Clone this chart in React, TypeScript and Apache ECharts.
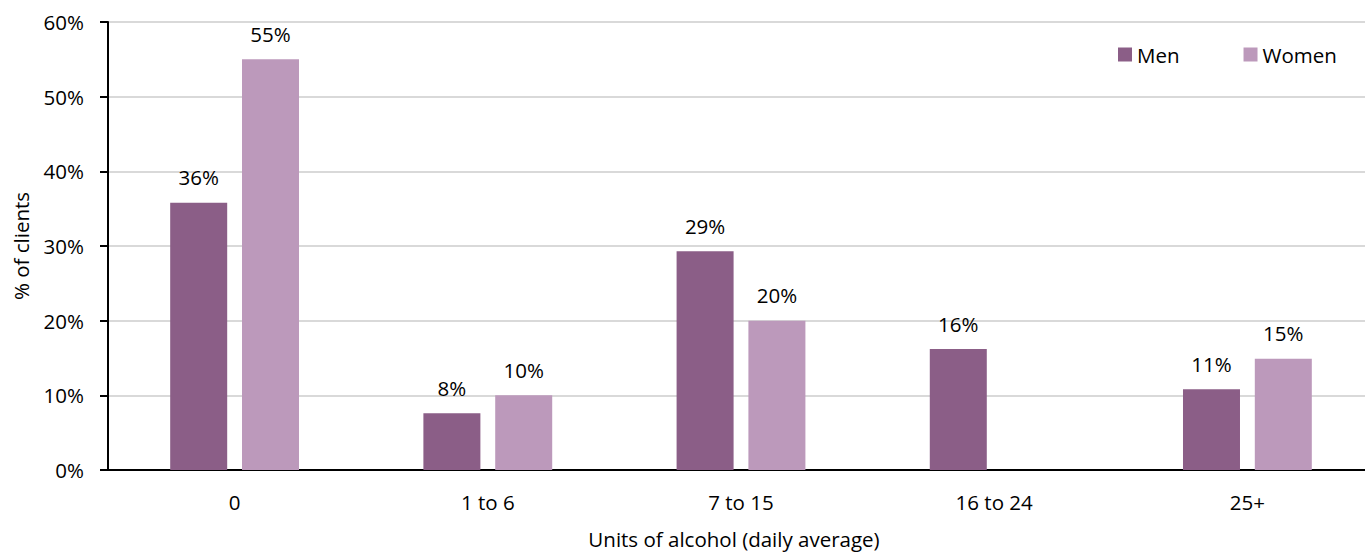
import React, { useEffect, useRef } from "react";
import * as echarts from "echarts";

const categories = ["0", "1 to 6", "7 to 15", "16 to 24", "25+"];
const menValues = [35.8, 7.6, 29.3, 16.2, 10.8];
const womenValues = [55, 10, 20, null, 14.9];
const menLabels = ["36%", "8%", "29%", "16%", "11%"];
const womenLabels = ["55%", "10%", "20%", "", "15%"];
const yTicks = [0, 10, 20, 30, 40, 50, 60];

const FONT = "Open Sans";
const FS = 20.5;

export default function App() {
  const ref = useRef<HTMLDivElement>(null);
  useEffect(() => {
    if (!ref.current) return;
    const chart = echarts.init(ref.current, undefined, { renderer: "svg" });
    chart.setOption({
      animation: false,
      textStyle: { fontFamily: FONT },
      legend: {
        left: 1118,
        top: 44,
        padding: 0,
        itemWidth: 14,
        itemHeight: 14,
        itemGap: 64,
        icon: "rect",
        textStyle: { fontFamily: FONT, fontSize: FS, color: "#000" },
        data: ["Men", "Women"],
      },
      grid: {
        left: 108,
        top: 22,
        width: 1266,
        height: 448,
        containLabel: false,
        outerBoundsMode: "none",
      },
      xAxis: {
        type: "category",
        data: categories,
        name: "Units of alcohol (daily average)",
        nameLocation: "middle",
        nameGap: 58,
        nameTextStyle: { fontFamily: FONT, fontSize: FS, color: "#000", padding: [0, 14, 0, 0] },
        axisLine: { lineStyle: { color: "#000", width: 2 } },
        axisTick: { show: false },
        axisLabel: { margin: 21, fontFamily: FONT, fontSize: FS, color: "#000" },
      },
      yAxis: {
        type: "value",
        min: yTicks[0],
        max: yTicks[yTicks.length - 1],
        interval: 10,
        name: "% of clients",
        nameLocation: "middle",
        nameGap: 77,
        nameTextStyle: { fontFamily: FONT, fontSize: FS, color: "#000" },
        axisLine: { show: true, lineStyle: { color: "#000", width: 2 } },
        axisTick: { show: true, length: 8, lineStyle: { color: "#000", width: 2 } },
        axisLabel: {
          margin: 24,
          fontFamily: FONT,
          fontSize: FS,
          color: "#000",
          formatter: (v: number) => v + "%",
        },
        splitLine: { lineStyle: { color: "#d9d9d9", width: 2 } },
      },
      series: [
        {
          name: "Men",
          type: "bar",
          data: menValues,
          barWidth: 57,
          barGap: "26%",
          itemStyle: { color: "#8B5E87" },
          label: {
            show: true,
            position: "top",
            distance: 15,
            fontFamily: FONT,
            fontSize: FS,
            color: "#000",
            formatter: (p: any) => menLabels[p.dataIndex],
          },
        },
        {
          name: "Women",
          type: "bar",
          data: womenValues,
          barWidth: 57,
          itemStyle: { color: "#BC99BB" },
          label: {
            show: true,
            position: "top",
            distance: 15,
            fontFamily: FONT,
            fontSize: FS,
            color: "#000",
            formatter: (p: any) => womenLabels[p.dataIndex],
          },
        },
      ],
    });
    return () => chart.dispose();
  }, []);
  return (
    <div
      ref={ref}
      style={{ position: "fixed", left: 0, top: 0, width: 1365, height: 555, background: "#fff" }}
    />
  );
}
